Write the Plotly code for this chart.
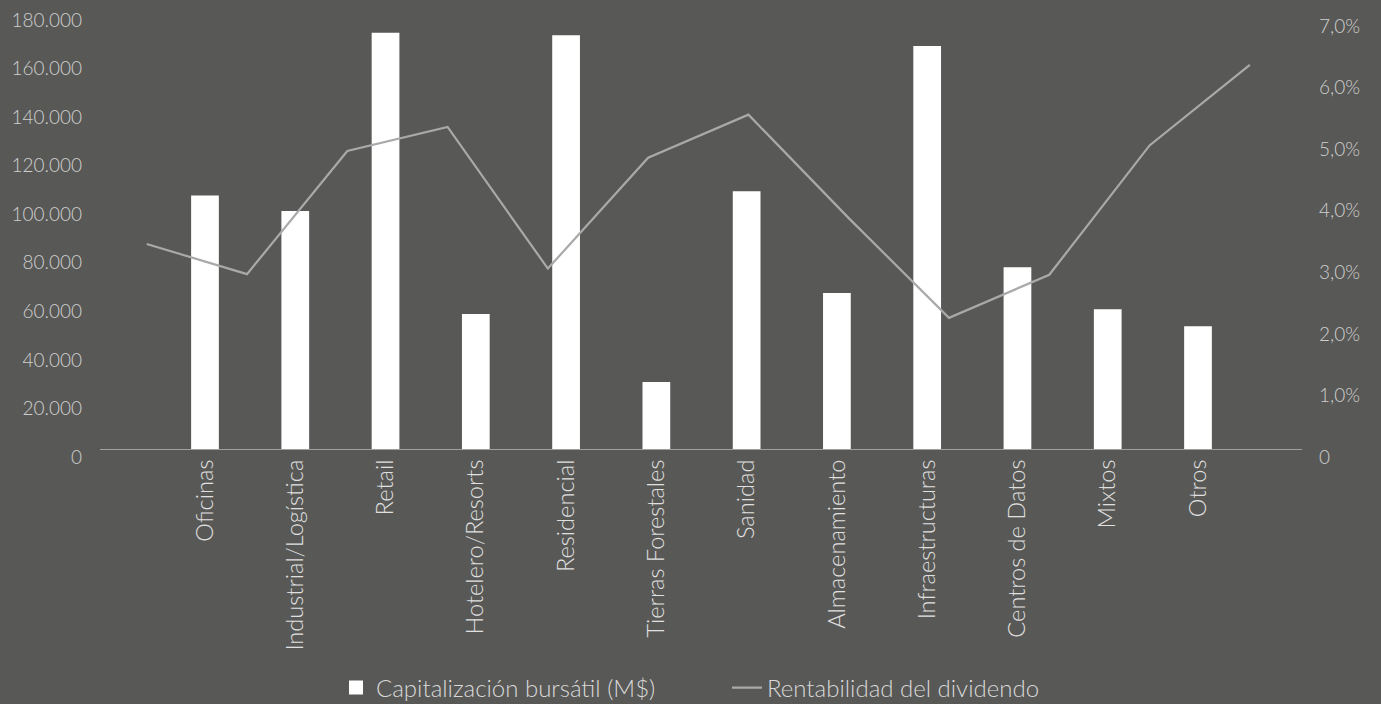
import plotly.graph_objects as go

categories = ["Oficinas", "Industrial/Logística", "Retail", "Hotelero/Resorts", "Residencial",
              "Tierras Forestales", "Sanidad", "Almacenamiento", "Infraestructuras",
              "Centros de Datos", "Mixtos", "Otros"]
market_cap = [104000, 97600, 171000, 55200, 170000, 27200, 105800, 63800, 165600, 74500, 57200, 50200]
dividend_yield = [0.0333, 0.0284, 0.0484, 0.0523, 0.0293, 0.0473, 0.0543, 0.0375, 0.0213, 0.0283, 0.0493, 0.0624]

left_tickvals = [0, 20000, 40000, 60000, 80000, 100000, 120000, 140000, 160000, 180000]
left_ticktext = ["0", "20.000", "40.000", "60.000", "80.000", "100.000", "120.000", "140.000", "160.000", "180.000"]
right_tickvals = [0, 0.01, 0.02, 0.03, 0.04, 0.05, 0.06, 0.07]
right_ticktext = ["0", "1,0%", "2,0%", "3,0%", "4,0%", "5,0%", "6,0%", "7,0%"]

BG = "#585856"
FONT = "Lato"
n = len(categories)
idx = list(range(n))

fig = go.Figure()
fig.add_trace(go.Bar(
    x=idx, y=market_cap, name="Capitalización bursátil (M$)",
    marker=dict(color="#ffffff", line=dict(width=2, color="#ffffff")), width=0.285,
    xaxis="x", yaxis="y",
))
fig.add_trace(go.Scatter(
    x=idx, y=dividend_yield, name="Rentabilidad del dividendo",
    mode="lines", line=dict(color="#a9a9a9", width=2.2),
    xaxis="x2", yaxis="y2",
))

fig.update_layout(
    width=1381, height=704,
    paper_bgcolor=BG, plot_bgcolor=BG,
    margin=dict(l=100, r=79, t=12, b=255, autoexpand=False),
    font=dict(family=FONT, size=19, color="#d0d0d0", weight=300),
    showlegend=True,
    legend=dict(orientation="h", xref="container", yref="container",
                x=336 / 1381, xanchor="left", y=1 - 688 / 704, yanchor="middle",
                font=dict(size=24, color="#d9d9d9", family=FONT, weight=300),
                bgcolor="rgba(0,0,0,0)", entrywidth=346, itemwidth=30),
    xaxis=dict(
        range=[-1.163, 12.152], tickvals=idx, ticktext=categories, tickangle=-90,
        showgrid=False, zeroline=False, showline=True, linecolor="#a0a0a0", linewidth=1.3,
        ticks="", tickfont=dict(size=23.6, color="#e0e0e0", family=FONT, weight=300),
        fixedrange=True, automargin=False,
    ),
    xaxis2=dict(
        range=[-0.466, 11.52], overlaying="x", showticklabels=False, showgrid=False,
        zeroline=False, showline=False, ticks="", automargin=False,
    ),
    yaxis=dict(
        range=[0, 180000], tickvals=left_tickvals, ticktext=left_ticktext,
        showgrid=False, zeroline=False, showline=False, ticks="",
        ticklabelstandoff=17, ticklabelshift=8, automargin=False,
        tickfont=dict(size=19, color="#cfcfcf", family=FONT, weight=300),
    ),
    yaxis2=dict(
        range=[0, 0.07 * 437 / 431], tickvals=right_tickvals, ticktext=right_ticktext,
        overlaying="y", side="right", showgrid=False, zeroline=False, showline=False, ticks="",
        ticklabelstandoff=16, ticklabelshift=8, automargin=False,
        tickfont=dict(size=19, color="#cfcfcf", family=FONT, weight=300),
    ),
)

fig.write_html("out.html", config={"displayModeBar": False},
               post_script="document.body.style.margin='0';")
